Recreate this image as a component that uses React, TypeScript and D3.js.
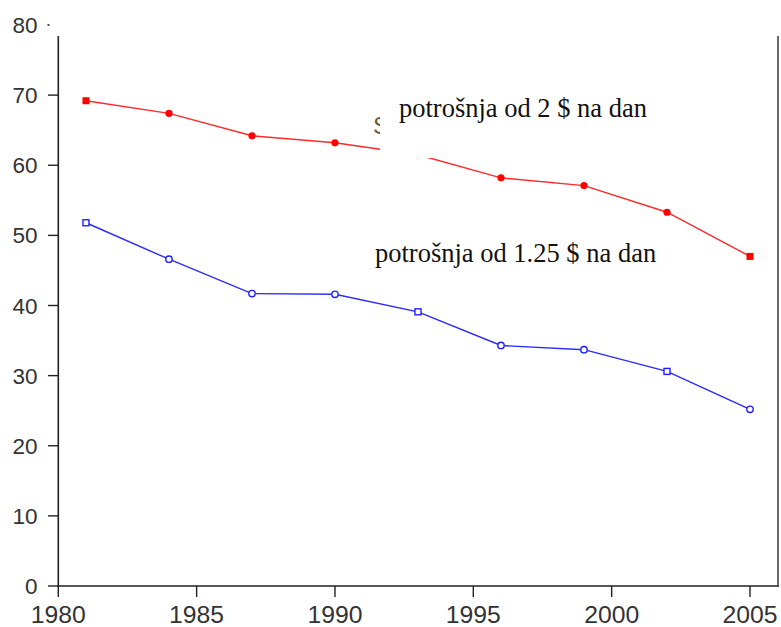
import React from "react";
import * as d3 from "d3";

const years = [1981, 1984, 1987, 1990, 1993, 1996, 1999, 2002, 2005];
const red2 = [69.2, 67.4, 64.2, 63.2, 61.5, 58.2, 57.1, 53.3, 47.0];
const blue125 = [51.8, 46.6, 41.7, 41.6, 39.1, 34.3, 33.7, 30.6, 25.2];
const redShapes = ["s", "c", "c", "c", "c", "c", "c", "c", "s"];
const blueShapes = ["s", "c", "c", "c", "s", "c", "c", "s", "c"];
const yTicks = [0, 10, 20, 30, 40, 50, 60, 70, 80];
const xTicks = [1980, 1985, 1990, 1995, 2000, 2005];
const label2 = "potrošnja od 2 $ na dan";
const label125 = "potrošnja od 1.25 $ na dan";

export default function App() {
  const W = 781, H = 627;
  const x = d3.scaleLinear().domain([1980, 2005]).range([58.3, 750]);
  const y = d3.scaleLinear().domain([0, 80]).range([586, 25]);
  const line = d3.line<[number, number]>().x(d => x(d[0])).y(d => y(d[1]));
  const redPts = years.map((yr, i) => [yr, red2[i]] as [number, number]);
  const bluePts = years.map((yr, i) => [yr, blue125[i]] as [number, number]);
  const tickFont = "'Liberation Sans', Arial, sans-serif";
  const serif = "'Liberation Serif', 'Times New Roman', serif";
  return (
    <svg width={W} height={H} style={{ position: "absolute", left: 0, top: 0, background: "#fff" }}>
      {/* lines */}
      <path d={line(redPts) || ""} fill="none" stroke="#ff2a2a" strokeWidth={1.4} />
      {redPts.map((p, i) =>
        redShapes[i] === "s" ? (
          <rect key={"r" + i} x={x(p[0]) - 3.5} y={y(p[1]) - 3.5} width={7} height={7} fill="#ff0000" />
        ) : (
          <circle key={"r" + i} cx={x(p[0])} cy={y(p[1])} r={3.6} fill="#ff0000" />
        )
      )}
      <path d={line(bluePts) || ""} fill="none" stroke="#2a2aff" strokeWidth={1.4} />
      {bluePts.map((p, i) =>
        blueShapes[i] === "s" ? (
          <rect key={"b" + i} x={x(p[0]) - 3} y={y(p[1]) - 3} width={6} height={6} fill="#fff" stroke="#2020ff" strokeWidth={1.4} />
        ) : (
          <circle key={"b" + i} cx={x(p[0])} cy={y(p[1])} r={3.2} fill="#fff" stroke="#2020ff" strokeWidth={1.4} />
        )
      )}
      {/* partially hidden original label */}
      <text x={373} y={134} fontFamily={tickFont} fontSize={24} fill="#6a5a3a">S</text>
      <rect x={380} y={78} width={282} height={80} fill="#fff" />
      <text x={399} y={117} fontFamily={serif} fontSize={26.5} fill="#111">{label2}</text>
      <text x={375} y={262} fontFamily={serif} fontSize={26.5} fill="#111">{label125}</text>
      {/* axes */}
      <line x1={58.3} y1={36} x2={58.3} y2={587} stroke="#222" strokeWidth={1.6} />
      <line x1={57.5} y1={586} x2={779} y2={586} stroke="#222" strokeWidth={1.6} />
      <line x1={778} y1={36} x2={778} y2={587} stroke="#444" strokeWidth={1.6} />
      {yTicks.map(t => (
        <g key={"y" + t}>
          {t === 80 ? (
            <rect x={47.5} y={y(t) - 0.8} width={2} height={1.6} fill="#222" />
          ) : (
            <line x1={48} y1={y(t)} x2={58.3} y2={y(t)} stroke="#222" strokeWidth={1.4} />
          )}
          <text x={37.5} y={y(t)} dy="0.36em" textAnchor="end" fontFamily={tickFont} fontSize={22.5} fill="#333">{t}</text>
        </g>
      ))}
      {xTicks.map(t => (
        <g key={"x" + t}>
          <line x1={x(t)} y1={586} x2={x(t)} y2={597} stroke="#222" strokeWidth={1.4} />
          <text x={x(t)} y={623} textAnchor="middle" fontFamily={tickFont} fontSize={23} textLength={55} lengthAdjust="spacingAndGlyphs" fill="#333">{t}</text>
        </g>
      ))}
    </svg>
  );
}
